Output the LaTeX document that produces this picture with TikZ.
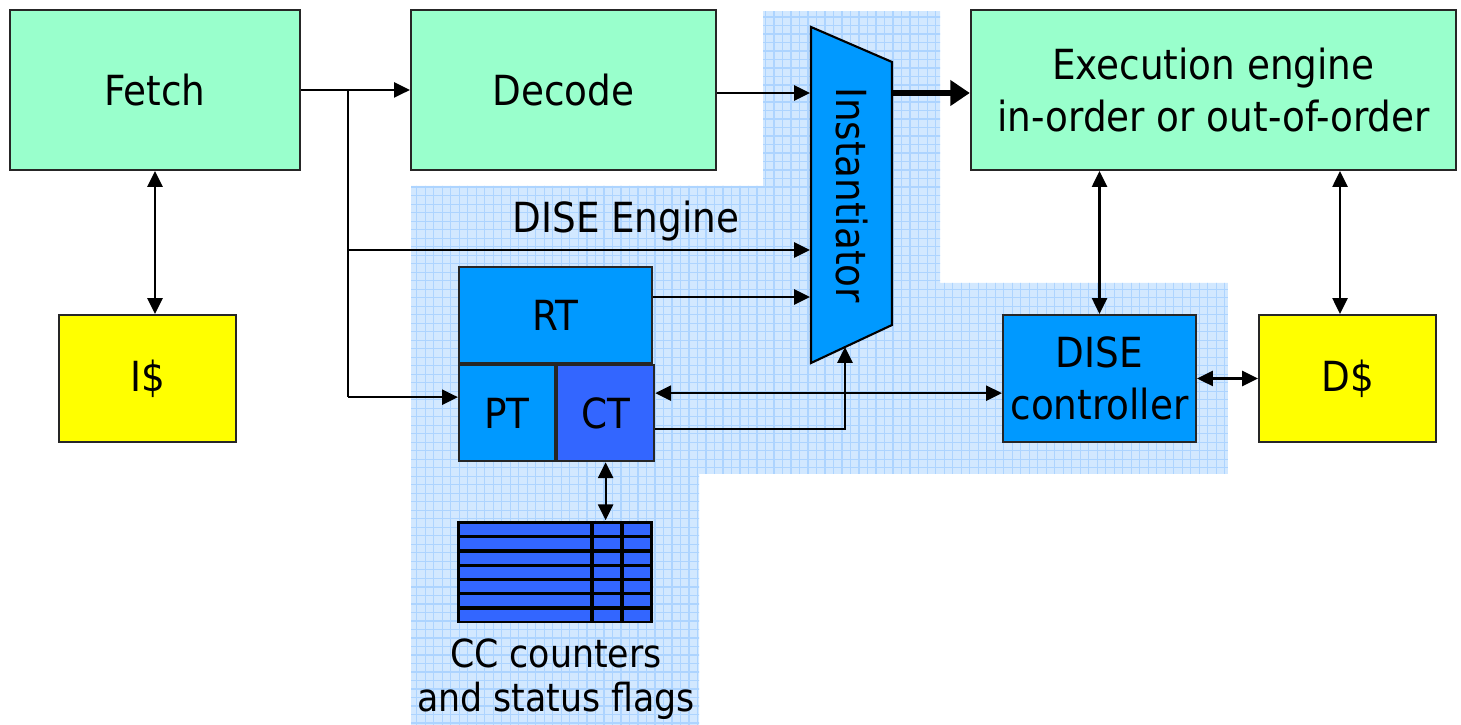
\documentclass[tikz,border=0pt]{standalone}
\usepackage{fontspec}
\setmainfont{DejaVu Sans Condensed}
\usetikzlibrary{arrows.meta, positioning, calc}

\definecolor{stagegreen}{HTML}{99FFCC}
\definecolor{cacheyellow}{HTML}{FFFF00}
\definecolor{diseblue}{HTML}{0099FF}
\definecolor{ctblue}{HTML}{3366FF}
\definecolor{regionblue}{HTML}{D2E8FF}
\definecolor{gridblue}{HTML}{ADD4FF}

\tikzset{
  blk/.style={draw=black!85, line width=0.6pt, inner sep=0pt, align=center,
    font=\fontsize{11.8}{14.7}\selectfont},
  link/.style={line width=0.6pt, -{Triangle[length=4.5pt,width=4.3pt]}},
  dlink/.style={line width=0.6pt, {Triangle[length=4.5pt,width=4.3pt]}-{Triangle[length=4.5pt,width=4.3pt]}},
  widelink/.style={line width=1.5pt, -{Triangle[length=5.5pt,width=7pt]}},
}

\begin{document}
\begin{tikzpicture}[x=0.01cm, y=-0.01cm]
  \useasboundingbox (0,0) rectangle (1461,725);

  % shaded DISE engine region
  \begin{scope}
    \clip (763,11) -- (940,11) -- (940,283) -- (1228,283) -- (1228,474) -- (699,474)
      -- (699,725) -- (411,725) -- (411,186) -- (763,186) -- cycle;
    \fill[regionblue] (411,11) rectangle (1228,725);
    \draw[gridblue, line width=0.35pt, step=0.085cm] (411,11) grid (1228,725);
  \end{scope}

  % Pipeline stages
  \node[blk, fill=stagegreen, minimum width=2.9cm, minimum height=1.6cm] (fetch) at (155,90) {Fetch};
  \node[blk, fill=stagegreen, minimum width=3.05cm, minimum height=1.6cm] (decode) at (563.5,90) {Decode};
  \node[blk, fill=stagegreen, minimum width=4.85cm, minimum height=1.6cm] (exec) at (1213.5,90)
    {Execution engine\\in-order or out-of-order};

  % Caches
  \node[blk, fill=cacheyellow, minimum width=1.77cm, minimum height=1.27cm] (icache) at (147.5,378.5) {I\$};
  \node[blk, fill=cacheyellow, minimum width=1.77cm, minimum height=1.27cm] (dcache) at (1347.5,378.5) {D\$};

  % DISE engine parts
  \node[blk, fill=diseblue, minimum width=1.93cm, minimum height=1.27cm] (ctrl) at (1099.5,378.5) {DISE\\controller};
  \node[blk, fill=diseblue, minimum width=1.93cm, minimum height=0.96cm] (rt) at (555.5,315) {RT};
  \node[blk, fill=diseblue, minimum width=0.96cm, minimum height=0.96cm, anchor=north west] (pt) at (rt.south west) {PT};
  \node[blk, fill=ctblue, minimum width=0.97cm, minimum height=0.96cm, anchor=north west] (ct) at (pt.north east) {CT};
  \node[blk, draw=none] (engine) at (626,221) {DISE Engine};

  % Instantiator (trapezoid), text runs top to bottom
  \draw[fill=diseblue, line width=0.6pt] (811,27) -- (892,62) -- (892,325) -- (811,363) -- cycle;
  \node[blk, draw=none, minimum width=3.36cm, minimum height=0.81cm, rotate=-90] (inst) at (851.5,195) {Instantiator};
  \coordinate (instbot) at (845,347);

  % CC counters table
  \node[fill=black, minimum width=1.96cm, minimum height=1.02cm, inner sep=0pt] (cc) at (555,572) {};
  \foreach \r in {0,...,6}
    \foreach \a/\b in {460/590, 594/620, 624/650}
      \fill[ctblue] (\a,{524+\r*14.3}) rectangle (\b,{535+\r*14.3});
  \node[align=center, font=\fontsize{11}{12.4}\selectfont, inner sep=0pt] (cclabel) at (556,679)
    {CC counters\\and status flags};

  % Connections
  \coordinate (split) at (348,90);
  \coordinate (engin) at (348,250);
  \draw[link] (fetch.east) -- (decode.west);
  \draw[link] ([yshift=-.03cm]decode.east) coordinate (decout) -- (decout -| inst.south);
  \draw[line width=0.6pt] (split) -- ([yshift=.16cm]pt.west -| split);
  \draw[link] ([yshift=.16cm]pt.west -| split) -- ([yshift=.16cm]pt.west);
  \draw[link] (engin) -- (engin -| inst.south);
  \draw[link] ([yshift=.18cm]rt.east) coordinate (rtout) -- (rtout -| inst.south);
  \draw[widelink] ([yshift=-.03cm]exec.west) coordinate (execin) (execin -| inst.north) -- (execin);
  \draw[dlink] ([yshift=.2cm]ct.east) coordinate (ctio) -- (ctio -| ctrl.west);
  \draw[link] ([yshift=-.16cm]ct.east) -| (instbot);
  \draw[dlink] (ctrl.east) -- (dcache.west);
  \draw[dlink] (ctrl.north) -- (ctrl.north |- exec.south);
  \draw[dlink] ([xshift=-.075cm]dcache.north) coordinate (dtop) -- (dtop |- exec.south);
  \draw[dlink] ([xshift=.075cm]icache.north) coordinate (itop) -- (itop |- fetch.south);
  \draw[dlink] (ct.south) -- (ct.south |- cc.north);
\end{tikzpicture}
\end{document}
